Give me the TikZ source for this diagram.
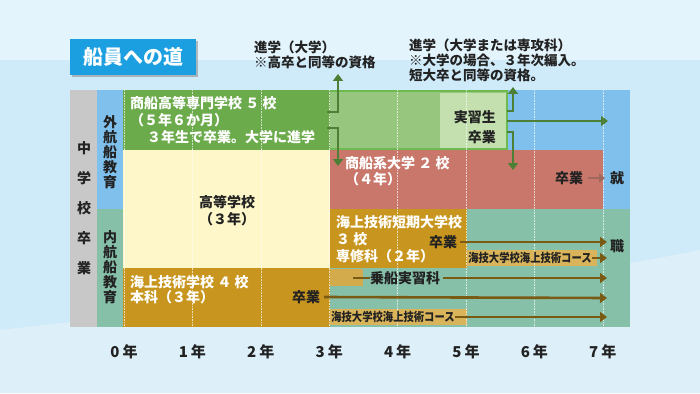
\documentclass[tikz,border=0pt]{standalone}
\usepackage{fontspec}
\newfontfamily\jp{Noto Sans CJK JP}
\usetikzlibrary{arrows.meta,shadows}
\definecolor{BG}{HTML}{CFEAF8}
\definecolor{BGL}{HTML}{E4F4FC}
\definecolor{GreyC}{HTML}{C8C8C8}
\definecolor{BlueC}{HTML}{7FC1EC}
\definecolor{TealC}{HTML}{86C0A9}
\definecolor{GreenD}{HTML}{6CAB4C}
\definecolor{GreenL}{HTML}{97C77E}
\definecolor{GreenP}{HTML}{C3E0AE}
\definecolor{GreenB}{HTML}{6DBB50}
\definecolor{RedC}{HTML}{C8776A}
\definecolor{YelC}{HTML}{FDF7C9}
\definecolor{GoldC}{HTML}{C8961F}
\definecolor{GoldL}{HTML}{D9B45A}
\definecolor{GArrow}{HTML}{4E7F36}
\definecolor{BArrow}{HTML}{7A5B14}
\definecolor{RArrow}{HTML}{A0675C}
\definecolor{TitleB}{HTML}{1C9FE0}
\definecolor{Ink}{HTML}{222222}
\tikzset{
  jt/.style={font=\jp\bfseries\fontsize{14}{16}\selectfont, inner sep=0pt, text=Ink},
  jw/.style={jt, text=white},
  js/.style={font=\jp\bfseries\fontsize{12}{13}\selectfont, inner sep=0pt, text=Ink},
  garrow/.style={draw=GArrow, line width=2.4pt, -{Triangle[length=7pt,width=10pt]}},
  barrow/.style={draw=BArrow, line width=2.6pt, -{Triangle[length=7pt,width=10pt]}},
  gridl/.style={draw=white, opacity=0.7, densely dotted, line width=0.6pt}
}
\begin{document}
\begin{tikzpicture}[x=1pt,y=-1pt]
\useasboundingbox (0,0) rectangle (700,393);
% background
\fill[BG] (0,0) rectangle (700,393);
\fill[BGL] (0,0) rectangle (700,60);
\fill[BG!70!white] (0,330) .. controls (250,300) and (450,300) .. (700,250) -- (700,393) -- (0,393) -- cycle;
% title
\node[fill=TitleB, drop shadow={shadow xshift=2pt,shadow yshift=-2pt,opacity=0.5}, minimum width=126pt, minimum height=36pt, inner sep=0pt, font=\jp\bfseries\fontsize{20}{22}\selectfont, text=white] (title) at (133,57) {船員への道};
% left columns
\fill[GreyC] (70,90) rectangle (97,327);
\fill[BlueC] (97,90) rectangle (123,209);
\fill[TealC] (97,209) rectangle (123,327);
% right backgrounds
\fill[BlueC] (507,90) rectangle (630,150);
\fill[BlueC] (603,150) rectangle (630,209);
\fill[TealC] (467,209) rectangle (630,327);
\fill[TealC] (330,268) rectangle (467,327);
% green row
\fill[GreenD] (123,90) rectangle (330,150);
\fill[GreenL] (330,90) rectangle (507,150);
\fill[GreenP] (440,93) rectangle (507,148);
\draw[GreenB, line width=1.5pt] (330,91) -- (507,91) -- (507,149) -- (330,149);
% others
\fill[YelC] (123,150) rectangle (330,268);
\fill[RedC] (330,150) rectangle (603,209);
\fill[GoldC] (330,209) rectangle (467,268);
\fill[GoldC] (123,268) rectangle (330,327);
\fill[GoldC!80!white] (330,269) rectangle (363,286);
\fill[GoldL] (330,309) rectangle (467,325);
\fill[GoldL] (467,250) rectangle (597,266);
% grid
\foreach \i in {0,...,7}{
  \draw[gridl] (124+68.4*\i,90) -- (124+68.4*\i,327);
}
% vertical labels
\foreach \c [count=\k from 0] in {中,学,校,卒,業}{
  \node[jt] at (84,148+30*\k) {\c};
}
\foreach \c [count=\k from 0] in {外,航,船,教,育}{
  \node[jt] at (110,122+15*\k) {\c};
}
\foreach \c [count=\k from 0] in {内,航,船,教,育}{
  \node[jt] at (110,237+15*\k) {\c};
}
% texts in boxes
\node[jw, anchor=west] (kosen) at (130,103) {商船高等専門学校 ５ 校};
\node[jw, anchor=west] at (130,120) {（５年６か月）};
\node[jw, anchor=west] at (147,137) {３年生で卒業。大学に進学};
\node[jt] (koko) at (227,202) {高等学校};
\node[jt] at (227,219) {（３年）};
\node[jw, anchor=west] (kaigi) at (130,282) {海上技術学校 ４ 校};
\node[jw, anchor=west] at (130,297) {本科（３年）};
\node[jt] (sotsu1) at (306,297) {卒業};
\node[jw, anchor=west] (shosen) at (345,163) {商船系大学 ２ 校};
\node[jw, anchor=west] at (345,179) {（４年）};
\node[jt] (sotsu2) at (569,178) {卒業};
\node[jw, anchor=west] (tandai) at (336,222) {海上技術短期大学校};
\node[jw, anchor=west] at (336,239) {３ 校};
\node[jw, anchor=west] at (336,256) {専修科（２年）};
\node[jt] (sotsu3) at (443,242) {卒業};
\node[jt, anchor=east] (jisshu) at (496,117) {実習生};
\node[jt, anchor=east] (sotsu4) at (496,137) {卒業};
\node[jt] (josen) at (405,278) {乗船実習科};
\node[js] (kaigidai1) at (530,258) {\scalebox{0.86}[1]{海技大学校海上技術コース}};
\node[js] (kaigidai2) at (393,317) {\scalebox{0.86}[1]{海技大学校海上技術コース}};
\node[jt] (shu) at (617,178) {就};
\node[jt] (shoku) at (617,246) {職};
% top annotations
\node[jt, anchor=west, font=\jp\bfseries\fontsize{13.5}{15}\selectfont] at (254,47) {進学（大学）};
\node[jt, anchor=west, font=\jp\bfseries\fontsize{13.5}{15}\selectfont] at (254,62) {※高卒と同等の資格};
\node[jt, anchor=west, font=\jp\bfseries\fontsize{13.5}{15}\selectfont] at (409,45) {進学（大学または専攻科）};
\node[jt, anchor=west, font=\jp\bfseries\fontsize{13.5}{15}\selectfont] at (409,60) {※大学の場合、３年次編入。};
\node[jt, anchor=west, font=\jp\bfseries\fontsize{13.5}{15}\selectfont] at (409,75) {短大卒と同等の資格。};
% year axis
\foreach \i in {0,...,7}{
  \node[jt, font=\jp\bfseries\fontsize{15}{17}\selectfont] at (124+68.4*\i,352) {\i\hspace{3pt}年};
}
% coordinates for connectors
\coordinate (g1s) at (327,112);
\coordinate (g1e) at (338,74);
\coordinate (g2s) at (327,128);
\coordinate (g2e) at (338,166);
\coordinate (g3s) at (507,111);
\coordinate (g3e) at (513,87);
\coordinate (g4s) at (507,132);
\coordinate (g4e) at (513,170);
\coordinate (g5s) at (507,121);
\coordinate (g5e) at (608,121);
\draw[garrow] (g1s) -| (g1e);
\draw[garrow] (g2s) -| (g2e);
\draw[garrow] (g3s) -| (g3e);
\draw[garrow] (g4s) -| (g4e);
\draw[garrow] (g5s) -- (g5e);
% brown arrows
\coordinate (t1) at (607,242);
\coordinate (t2) at (607,258);
\coordinate (t3) at (607,278);
\coordinate (t4) at (607,298);
\coordinate (t5) at (607,317);
\coordinate (dash) at (353,278);
\draw[barrow] (sotsu3.east) ++(3,0) -- (t1);
\draw[barrow] (kaigidai1.east) -- (t2);
\draw[draw=BArrow, line width=2.6pt] (dash) -- (josen.west);
\draw[barrow] (josen.east) ++(3,0) -- (t3);
\draw[barrow] (sotsu1.east) ++(4,0) -- (t4);
\draw[barrow] (kaigidai2.east) -- (t5);
\draw[draw=RArrow, line width=2.4pt, -{Triangle[length=6pt,width=9pt]}] (sotsu2.east) ++(5,0) -- (605,178);
\end{tikzpicture}
\end{document}
